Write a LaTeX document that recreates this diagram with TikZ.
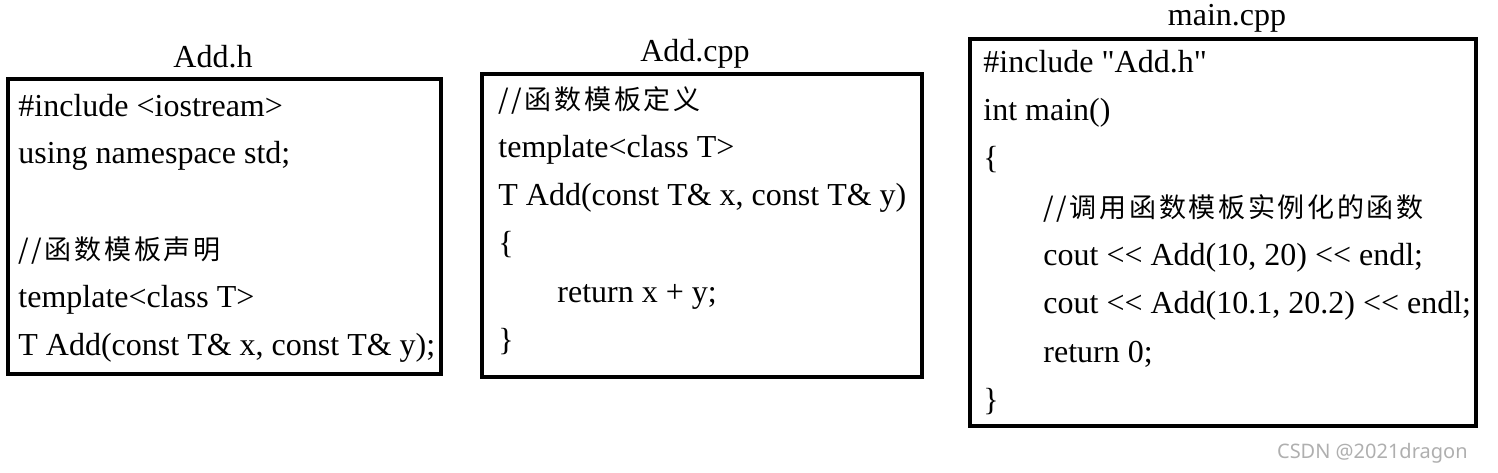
\documentclass[tikz,border=0pt]{standalone}
\usepackage{fontspec}
\setmainfont{Liberation Serif}
\newfontfamily\codefont{Liberation Serif}
\newfontfamily\cjkfont[LetterSpace=10]{Noto Sans CJK SC}
\newfontfamily\wmfont{Noto Sans}
\newcommand\zh[1]{{\cjkfont\fontsize{13.5}{16}\selectfont #1}}
\definecolor{wmgray}{RGB}{175,175,175}
\tikzset{
  codebox/.style={draw, line width=2pt, inner sep=0pt, outer sep=0pt},
  codeline/.style={anchor=base west, inner sep=0pt, font=\codefont\fontsize{16}{19}\selectfont},
  ftitle/.style={anchor=base, inner sep=0pt, font=\codefont\fontsize{16}{19}\selectfont},
  wmstyle/.style={anchor=base east, inner sep=0pt, text=wmgray, font=\wmfont\fontsize{10}{12}\selectfont}
}
\begin{document}
\begin{tikzpicture}[x=0.5pt,y=-0.5pt]
\useasboundingbox (0,0) rectangle (1498,472);
% boxes
\node[codebox, minimum width=216.5pt, minimum height=147.5pt] (hbox) at (224.5,226.5) {};
\node[codebox, minimum width=220pt, minimum height=151.5pt] (cbox) at (702,225.5) {};
\node[codebox, minimum width=253pt, minimum height=193.5pt] (mbox) at (1223,232.5) {};
% titles
\node[ftitle] (htitle) at (213,67) {Add.h};
\node[ftitle] (ctitle) at (695,61) {Add.cpp};
\node[ftitle] (mtitle) at (1227,25) {main.cpp};
% Add.h
\node[codeline] (h1) at (18,116) {\#include <iostream>};
\node[codeline] (h2) at (18,163.8) {using namespace std;};
\node[codeline] (h4) at (18,259.4) {\zh{//函数模板声明}};
\node[codeline] (h5) at (18,307.2) {template<class T>};
\node[codeline] (h6) at (18,355) {T Add(const T\& x, const T\& y);};
% Add.cpp
\node[codeline] (c1) at (498,109) {\zh{//函数模板定义}};
\node[codeline] (c2) at (498,157) {template<class T>};
\node[codeline] (c3) at (498,205) {T Add(const T\& x, const T\& y)};
\node[codeline] (c4) at (498,253) {\{};
\node[codeline] (c5) at (557,302) {return x + y;};
\node[codeline] (c6) at (498,350) {\}};
% main.cpp
\node[codeline] (m1) at (983,72) {\#include "Add.h"};
\node[codeline] (m2) at (983,120.3) {int main()};
\node[codeline] (m3) at (983,168.6) {\{};
\node[codeline] (m4) at (1043,217) {\zh{//调用函数模板实例化的函数}};
\node[codeline] (m5) at (1043,265) {cout << Add(10, 20) << endl;};
\node[codeline] (m6) at (1043,313.5) {cout << Add(10.1, 20.2) << endl;};
\node[codeline] (m7) at (1043,362) {return 0;};
\node[codeline] (m8) at (983,410) {\}};
% watermark
\node[wmstyle] (wm) at (1468,458) {CSDN @2021dragon};
\end{tikzpicture}
\end{document}
